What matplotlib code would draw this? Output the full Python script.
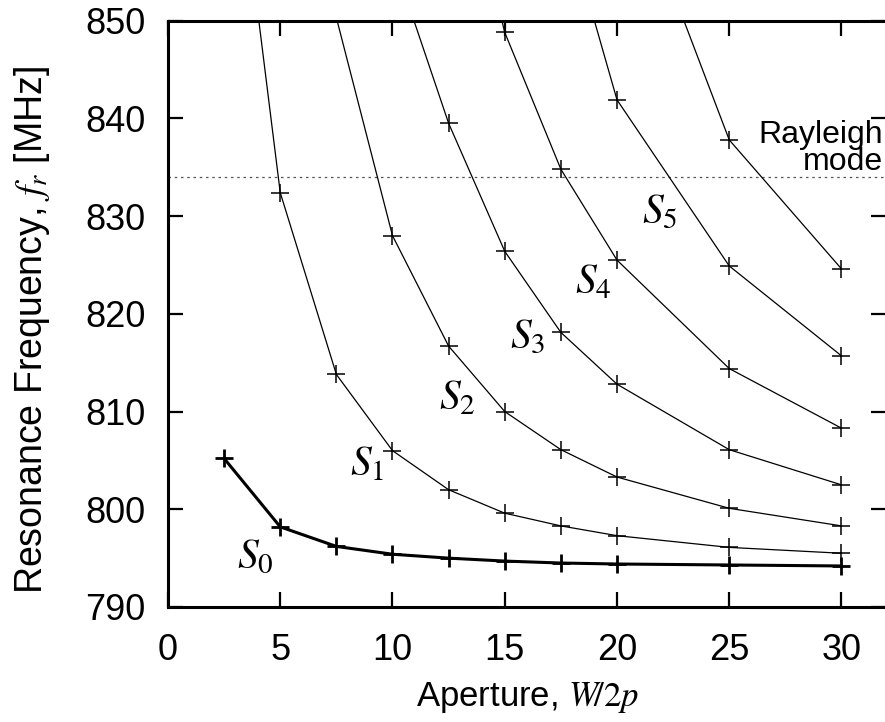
import numpy as np
import matplotlib
matplotlib.use("Agg")
import matplotlib.pyplot as plt

# aperture values (W/2p) where each mode was computed
aperture = [2.5, 5, 7.5, 10, 12.5, 15, 17.5, 20, 25, 30]

# resonance frequencies [MHz]; values above 850 are off-scale (only the line enters the frame)
s0 = [805.2, 798.2, 796.2, 795.4, 795.0, 794.7, 794.5, 794.4, 794.3, 794.2]
s1 = [878.5, 832.4, 813.8, 806.0, 802.0, 799.6, 798.3, 797.3, 796.1, 795.5]
s2 = [np.nan, np.nan, 850.3, 828.0, 816.7, 810.0, 806.1, 803.3, 800.1, 798.3]
s3 = [np.nan, np.nan, np.nan, 856.5, 839.5, 826.4, 818.1, 812.8, 806.1, 802.5]
s4 = [np.nan, np.nan, np.nan, np.nan, 872.0, 848.8, 834.8, 825.5, 814.4, 808.3]
s5 = [np.nan, np.nan, np.nan, np.nan, np.nan, np.nan, 862.0, 841.9, 824.9, 815.7]
s6 = [np.nan, np.nan, np.nan, np.nan, np.nan, np.nan, np.nan, 868.0, 837.8, 824.6]

modes = [s1, s2, s3, s4, s5, s6]
rayleigh = 834.0

mode_labels = [r"$S_0$", r"$S_1$", r"$S_2$", r"$S_3$", r"$S_4$", r"$S_5$"]
label_x = [3.9, 8.85, 12.9, 16.0, 18.95, 21.9]
label_y = [795.1, 804.6, 811.4, 817.6, 823.2, 830.4]

YMIN, YMAX = 790, 850

plt.rcParams["font.family"] = ["Liberation Sans", "DejaVu Sans"]
plt.rcParams["mathtext.fontset"] = "stix"

fig = plt.figure(figsize=(8.85, 7.22), dpi=100)
ax = fig.add_axes([168 / 885, 1 - 607 / 722, (886.4 - 168) / 885, (607 - 20.7) / 722])

x = np.array(aperture)


def draw_mode(vals, lw, mew):
    v = np.array(vals, dtype=float)
    ok = ~np.isnan(v)
    ax.plot(x[ok], v[ok], color="black", lw=lw, zorder=3)
    vis = ok & (v <= YMAX)
    ax.plot(x[vis], v[vis], ls="none", marker="+", ms=13, mew=mew,
            color="black", zorder=4)


draw_mode(s0, 2.2, 2.0)
for m in modes:
    draw_mode(m, 0.9, 1.1)

ax.axhline(rayleigh, color="#555555", lw=0.9, ls=(0, (2, 3)), zorder=2)
ax.text(31.85, 836.9, "Rayleigh\nmode", ha="right", va="center",
        fontsize=23, linespacing=0.85)

for lab, lx, ly in zip(mode_labels, label_x, label_y):
    ax.text(lx, ly, lab, ha="center", va="center", fontsize=30)

ax.set_xlim(0, 32)
ax.set_ylim(YMIN, YMAX)
ax.set_xticks([0, 5, 10, 15, 20, 25, 30])
ax.set_yticks(np.arange(790, 851, 10))
ax.tick_params(direction="in", top=True, right=True, length=11, width=1.6,
               labelsize=26)
ax.tick_params(axis="x", pad=19)
ax.tick_params(axis="y", pad=16)
for sp in ax.spines.values():
    sp.set_linewidth(2.2)

ax.set_xlabel(r"Aperture, $W\!/2p$", fontsize=25)
ax.set_ylabel(r"Resonance Frequency, $f_r$ [MHz]", fontsize=27)
ax.xaxis.set_label_coords(0.5, -0.124)
ax.yaxis.set_label_coords(-0.162, 0.472)

fig.savefig("out.png", dpi=100)
